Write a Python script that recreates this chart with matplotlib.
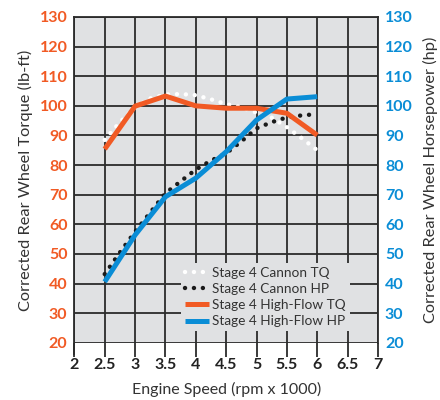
import numpy as np
import matplotlib.pyplot as plt

plt.rcParams['font.family'] = ['Lato', 'DejaVu Sans']

# Data (rpm x 1000)
rpm = [2.5, 3.0, 3.5, 4.0, 4.5, 5.0, 5.5, 6.0]
rpm_fine = [2.5, 2.75, 3.0, 3.25, 3.5, 3.75, 4.0, 4.25, 4.5, 4.75, 5.0, 5.25, 5.5, 5.75, 6.0]

cannon_tq = [88.5, 94.5, 99.5, 102.5, 103.8, 104.0, 103.6, 102.2, 100.6, 99.5, 97.7, 96.0, 92.8, 89.0, 85.0]
cannon_hp = [43.2, 50.5, 57.5, 64.0, 70.5, 74.5, 78.5, 81.5, 84.0, 88.0, 92.4, 94.5, 96.1, 96.8, 97.2]
highflow_tq = [85.4, 99.9, 103.3, 100.0, 99.2, 99.2, 97.5, 90.1]
highflow_hp = [40.6, 56.4, 69.3, 75.6, 84.5, 95.2, 102.3, 103.1]

orange = '#F15A24'
blue = '#0A8DD6'
grid_c = '#2b2b2b'
text_c = '#333333'

fig = plt.figure(figsize=(4.4, 4.0), dpi=100)
ax = fig.add_axes([0.169, 0.143, 0.690, 0.8145])
ax.set_facecolor('#E0E1E3')

ax.plot(rpm_fine, cannon_tq, color='white', lw=3.2, linestyle=(0, (0.01, 2.0)),
        dash_capstyle='round', label='Stage 4 Cannon TQ', zorder=3)
ax.plot(rpm_fine, cannon_hp, color='#1a1a1a', lw=3.2, linestyle=(0, (0.01, 2.0)),
        dash_capstyle='round', label='Stage 4 Cannon HP', zorder=3)
ax.plot(rpm, highflow_tq, color=orange, lw=3.6, solid_capstyle='butt',
        label='Stage 4 High-Flow TQ', zorder=4)
ax.plot(rpm, highflow_hp, color=blue, lw=3.6, solid_capstyle='butt',
        label='Stage 4 High-Flow HP', zorder=5)

ax.set_xlim(2, 7)
ax.set_ylim(20, 130)
xt = np.arange(2, 7.01, 0.5)
ax.set_xticks(xt)
ax.set_xticklabels([f'{v:g}' for v in xt], fontweight='bold', fontsize=11.5, color='#222222')
ax.set_yticks(np.arange(20, 131, 10))
ax.set_yticklabels([str(v) for v in range(20, 131, 10)], fontweight='bold', fontsize=11.5, color=orange)
ax.tick_params(axis='x', length=10, width=1.3, color=grid_c, pad=1)
ax.tick_params(axis='y', length=0, pad=5)
ax.grid(True, color=grid_c, lw=1.3)
ax.set_axisbelow(True)
for side in ['top', 'right', 'left']:
    ax.spines[side].set_color(grid_c)
    ax.spines[side].set_linewidth(1.3)
ax.spines['bottom'].set_visible(False)
ax.spines['left'].set_bounds(16.3, 130)

ax2 = ax.twinx()
ax2.set_ylim(20, 130)
ax2.set_yticks(np.arange(20, 131, 10))
ax2.set_yticklabels([str(v) for v in range(20, 131, 10)], fontweight='bold', fontsize=11.5, color=blue)
ax2.tick_params(axis='y', length=0, pad=5)
for s in ax2.spines.values():
    s.set_visible(False)

ax.set_ylabel('Corrected Rear Wheel Torque (lb-ft)', fontsize=11.8, color=text_c, labelpad=5)
ax2.set_ylabel('Corrected Rear Wheel Horsepower (hp)', fontsize=11.8, color=text_c, labelpad=7)
ax.set_xlabel('Engine Speed (rpm x 1000)', fontsize=11.5, color=text_c, labelpad=7)

leg = ax.legend(loc='upper left', bbox_to_anchor=(0.352, 0.245), fontsize=9.8,
                frameon=True, facecolor='#E0E1E3', edgecolor='none', framealpha=1,
                handlelength=1.75, handletextpad=0.2, labelspacing=0.3,
                borderpad=0.3, borderaxespad=0, fancybox=False)
for t in leg.get_texts():
    t.set_color(text_c)
leg.set_zorder(6)

fig.savefig('out.png', dpi=100)
